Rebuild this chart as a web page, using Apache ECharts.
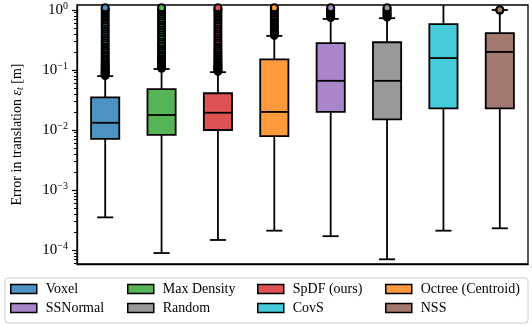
<!DOCTYPE html>
<html lang="en">
<head>
    <meta charset="UTF-8">
    <title>Translation error</title>
    <script src="https://cdn.jsdelivr.net/npm/echarts@6/dist/echarts.min.js"></script>
    <style>
        html, body { margin: 0; padding: 0; background: #fff; }
    </style>
</head>
<body>
<div id="boxChart" style="width: 532px;height: 325px;"></div>

<script>
    // methods and colours
    let methods = ['Voxel', 'Max Density', 'SpDF (ours)', 'Octree (Centroid)', 'SSNormal', 'Random', 'CovS', 'NSS'];
    let colors = ['#4c92c3', '#56b356', '#de5253', '#ff993e', '#a985ca', '#999999', '#45cbd9', '#a3786f'];

    // box stats [low whisker, Q1, median, Q3, high whisker], in metres
    let lowWhisker = [3.5e-4, 8.9e-5, 1.47e-4, 2.1e-4, 1.7e-4, 7.0e-5, 2.1e-4, 2.3e-4];
    let q1 = [0.0071, 0.0083, 0.0100, 0.0079, 0.020, 0.015, 0.023, 0.023];
    let median = [0.0132, 0.0178, 0.0194, 0.020, 0.066, 0.066, 0.158, 0.20];
    let q3 = [0.035, 0.048, 0.041, 0.15, 0.28, 0.29, 0.58, 0.41];
    let highWhisker = [0.079, 0.104, 0.092, 0.37, 0.71, 0.73, 1.4, 1.0];

    // outliers per method
    let outVoxel = [0.081, 0.083, 0.086, 0.089, 0.092, 0.095, 0.099, 0.103, 0.107, 0.112, 0.118, 0.124, 0.13, 0.138, 0.146, 0.155, 0.165, 0.177, 0.19, 0.2, 0.215, 0.23, 0.25, 0.27, 0.29, 0.31, 0.34, 0.37, 0.4, 0.44, 0.48, 0.52, 0.57, 0.62, 0.68, 0.74, 0.8, 0.87, 0.94, 1.0, 1.05, 1.09];
    let outMaxDensity = [0.107, 0.11, 0.114, 0.118, 0.123, 0.128, 0.134, 0.14, 0.147, 0.155, 0.164, 0.175, 0.186, 0.2, 0.215, 0.23, 0.25, 0.27, 0.29, 0.32, 0.35, 0.38, 0.42, 0.46, 0.5, 0.55, 0.6, 0.66, 0.72, 0.79, 0.86, 0.93, 1.0, 1.05, 1.09];
    let outSpDF = [0.095, 0.098, 0.102, 0.106, 0.11, 0.115, 0.12, 0.126, 0.133, 0.14, 0.148, 0.157, 0.167, 0.178, 0.19, 0.2, 0.215, 0.23, 0.25, 0.27, 0.29, 0.31, 0.34, 0.37, 0.4, 0.44, 0.48, 0.52, 0.57, 0.62, 0.68, 0.74, 0.8, 0.87, 0.94, 1.0, 1.05, 1.09];
    let outOctree = [0.38, 0.4, 0.42, 0.44, 0.47, 0.5, 0.53, 0.56, 0.6, 0.64, 0.68, 0.72, 0.77, 0.82, 0.88, 0.94, 1.0, 1.05, 1.09];
    let outSSNormal = [0.75, 0.78, 0.82, 0.86, 0.9, 0.95, 1.0, 1.05, 1.09];
    let outRandom = [0.76, 0.8, 0.84, 0.89, 0.94, 1.0, 1.05, 1.09];
    let outCovS = [];
    let outNSS = [0.99, 1.01];
    let outliers = [outVoxel, outMaxDensity, outSpDF, outOctree, outSSNormal, outRandom, outCovS, outNSS];

    // y axis (log10 space)
    let yMin = -4.233;
    let yMax = 0.083;
    let majorTicks = [-4, -3, -2, -1, 0];
    let minorTicks = [];
    for (let k = -5; k <= 0; k++) {
        for (let m = 2; m <= 9; m++) {
            let v = Math.log10(m) + k;
            if (v > yMin && v < yMax) minorTicks.push(v);
        }
    }

    const serif = '"Liberation Serif", "DejaVu Serif", serif';

    let boxData = methods.map(function (name, i) {
        return [i, Math.log10(lowWhisker[i]), Math.log10(q1[i]), Math.log10(median[i]),
            Math.log10(q3[i]), Math.log10(highWhisker[i])];
    });

    let series = [{
        type: 'custom',
        clip: true,
        z: 2,
        encode: {x: 0, y: [1, 2, 3, 4, 5]},
        data: boxData,
        renderItem: function (params, api) {
            let x = api.value(0);
            let lo = api.coord([x, api.value(1)]);
            let b1 = api.coord([x, api.value(2)]);
            let md = api.coord([x, api.value(3)]);
            let b3 = api.coord([x, api.value(4)]);
            let hi = api.coord([x, api.value(5)]);
            let band = api.size([1, 0])[0];
            let bw = band * 0.5;
            let cw = bw * 0.57;
            let cx = lo[0];
            let lineStyle = {stroke: '#000', lineWidth: 1.8};
            return {
                type: 'group',
                children: [
                    {type: 'line', shape: {x1: cx, y1: lo[1], x2: cx, y2: b1[1]}, style: lineStyle},
                    {type: 'line', shape: {x1: cx, y1: b3[1], x2: cx, y2: hi[1]}, style: lineStyle},
                    {type: 'line', shape: {x1: cx - cw / 2, y1: lo[1], x2: cx + cw / 2, y2: lo[1]}, style: lineStyle},
                    {type: 'line', shape: {x1: cx - cw / 2, y1: hi[1], x2: cx + cw / 2, y2: hi[1]}, style: lineStyle},
                    {
                        type: 'rect',
                        shape: {x: cx - bw / 2, y: b3[1], width: bw, height: b1[1] - b3[1]},
                        style: {fill: colors[params.dataIndex], stroke: '#000', lineWidth: 1.8}
                    },
                    {type: 'line', shape: {x1: cx - bw / 2, y1: md[1], x2: cx + bw / 2, y2: md[1]}, style: lineStyle}
                ]
            };
        }
    }];

    methods.forEach(function (name, i) {
        series.push({
            name: name,
            type: 'scatter',
            z: 3,
            clip: true,
            symbol: 'circle',
            symbolSize: 7,
            itemStyle: {color: colors[i], borderColor: '#000', borderWidth: 2, opacity: 1},
            data: outliers[i].map(function (v) { return [i, Math.log10(v)]; })
        });
    });

    // legend: 4 columns of 2 rows
    let legendCols = [10, 127, 257, 385];
    let legends = legendCols.map(function (left, c) {
        return {
            orient: 'vertical',
            left: left,
            top: 282,
            padding: 0,
            itemGap: 5,
            itemWidth: 26,
            itemHeight: 9,
            icon: 'rect',
            selectedMode: false,
            textStyle: {fontFamily: serif, fontSize: 14, color: '#000', padding: [0, 0, 0, 4]},
            data: [c, c + 4].map(function (i) {
                return {name: methods[i], itemStyle: {color: colors[i], borderColor: '#000', borderWidth: 1.5}};
            })
        };
    });

    let chart = echarts.init(document.getElementById('boxChart'));
    let option = {
        animation: false,
        backgroundColor: '#fff',
        grid: {left: 77, right: 4, top: 5, bottom: 61, show: true, borderColor: '#000', borderWidth: 1.3, backgroundColor: 'transparent'},
        legend: legends,
        graphic: [{
            type: 'rect',
            shape: {x: 5, y: 278, width: 523, height: 45, r: 3},
            style: {fill: 'none', stroke: '#cccccc', lineWidth: 1}
        }],
        xAxis: {
            type: 'category',
            data: methods,
            boundaryGap: true,
            axisLine: {onZero: false, lineStyle: {color: '#000', width: 1.3}},
            axisTick: {show: false},
            axisLabel: {show: false},
            splitLine: {show: false}
        },
        yAxis: [{
            type: 'value',
            min: yMin,
            max: yMax,
            name: '{n|Error in translation }{e|ε}{t|t}{n| [m]}',
            nameLocation: 'middle',
            nameGap: 52,
            nameTextStyle: {
                rich: {
                    n: {fontFamily: serif, fontSize: 14, color: '#000'},
                    e: {fontFamily: serif, fontSize: 14, color: '#000', fontStyle: 'italic'},
                    t: {fontFamily: serif, fontSize: 10, color: '#000', fontStyle: 'italic', verticalAlign: 'bottom', padding: [6, 0, 0, 0]}
                }
            },
            axisLine: {show: true, lineStyle: {color: '#000', width: 1.3}},
            axisTick: {show: true, length: 5, customValues: majorTicks, lineStyle: {color: '#000', width: 1.2}},
            axisLabel: {
                customValues: majorTicks,
                margin: 9,
                formatter: function (v) {
                    let p = Math.round(v);
                    return '{b|10}{s|' + (p < 0 ? '\u2212' + (-p) : p) + '}';
                },
                rich: {
                    b: {fontFamily: serif, fontSize: 15, color: '#000', lineHeight: 18},
                    s: {fontFamily: serif, fontSize: 10, color: '#000', verticalAlign: 'top', padding: [0, 0, 8, 0]}
                }
            },
            splitLine: {show: false}
        }, {
            type: 'value',
            min: yMin,
            max: yMax,
            position: 'left',
            offset: 0,
            axisLine: {show: false},
            axisTick: {show: true, length: 3, customValues: minorTicks, lineStyle: {color: '#000', width: 1}},
            axisLabel: {show: false},
            splitLine: {show: false}
        }],
        series: series
    };
    chart.setOption(option);
</script>
</body>
</html>
